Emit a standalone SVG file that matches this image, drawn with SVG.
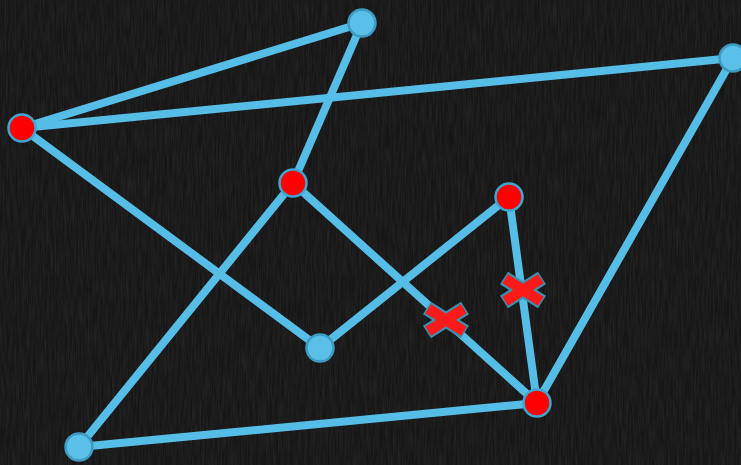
<svg xmlns="http://www.w3.org/2000/svg" width="741" height="465" viewBox="0 0 741 465">
<defs>
<filter id="chalk" x="0" y="0" width="100%" height="100%">
<feTurbulence type="fractalNoise" baseFrequency="0.6 0.04" numOctaves="3" seed="4"/>
<feColorMatrix type="matrix" values="0 0 0 0 1  0 0 0 0 1  0 0 0 0 1  0.35 0 0 0 -0.1"/>
</filter>
</defs>
<style>
.edge{stroke:#56bde6;stroke-width:8;stroke-linecap:round;fill:none}
.blue{fill:#5bc0e8;stroke:#3d9ac2;stroke-width:2.5}
.red{fill:#ff0000;stroke:#3ea6d0;stroke-width:2.5}
.xo{stroke:#3a92b0;stroke-width:15;stroke-linecap:butt}
.xi{stroke:#ff1a1a;stroke-width:10.5;stroke-linecap:butt}
</style>
<rect width="741" height="465" fill="#161616"/>
<rect width="741" height="465" filter="url(#chalk)" opacity="0.3"/>
<g id="connectors">
<line class="edge" x1="22" y1="128" x2="362" y2="23"/>
<line class="edge" x1="22" y1="128" x2="733" y2="58"/>
<line class="edge" x1="22" y1="128" x2="320" y2="348"/>
<line class="edge" x1="362" y1="23" x2="293" y2="183"/>
<line class="edge" x1="293" y1="183" x2="79" y2="447"/>
<line class="edge" x1="293" y1="183" x2="537" y2="403"/>
<line class="edge" x1="320" y1="348" x2="509" y2="197"/>
<line class="edge" x1="509" y1="197" x2="537" y2="403"/>
<line class="edge" x1="537" y1="403" x2="733" y2="58"/>
<line class="edge" x1="79" y1="447" x2="537" y2="403"/>
</g>
<g id="cross1" transform="translate(446,320)">
<line class="xo" x1="-19" y1="-12" x2="19" y2="12"/>
<line class="xo" x1="-19" y1="12" x2="19" y2="-12"/>
<line class="xi" x1="-17.8" y1="-11.2" x2="17.8" y2="11.2"/>
<line class="xi" x1="-17.8" y1="11.2" x2="17.8" y2="-11.2"/>
</g>
<g id="cross2" transform="translate(523,290)">
<line class="xo" x1="-19" y1="-12" x2="19" y2="12"/>
<line class="xo" x1="-19" y1="12" x2="19" y2="-12"/>
<line class="xi" x1="-17.8" y1="-11.2" x2="17.8" y2="11.2"/>
<line class="xi" x1="-17.8" y1="11.2" x2="17.8" y2="-11.2"/>
</g>
<g id="n-top"><circle class="blue" cx="362" cy="23" r="13.5"/></g>
<g id="n-right"><circle class="blue" cx="733" cy="58" r="13.5"/></g>
<g id="n-left"><circle class="red" cx="22" cy="128" r="13.5"/></g>
<g id="n-center"><circle class="red" cx="293" cy="183" r="13.5"/></g>
<g id="n-rc"><circle class="red" cx="509" cy="197" r="13.5"/></g>
<g id="n-mid"><circle class="blue" cx="320" cy="348" r="13.5"/></g>
<g id="n-br"><circle class="red" cx="537" cy="403" r="13.5"/></g>
<g id="n-bl"><circle class="blue" cx="79" cy="447" r="13.5"/></g>
</svg>
